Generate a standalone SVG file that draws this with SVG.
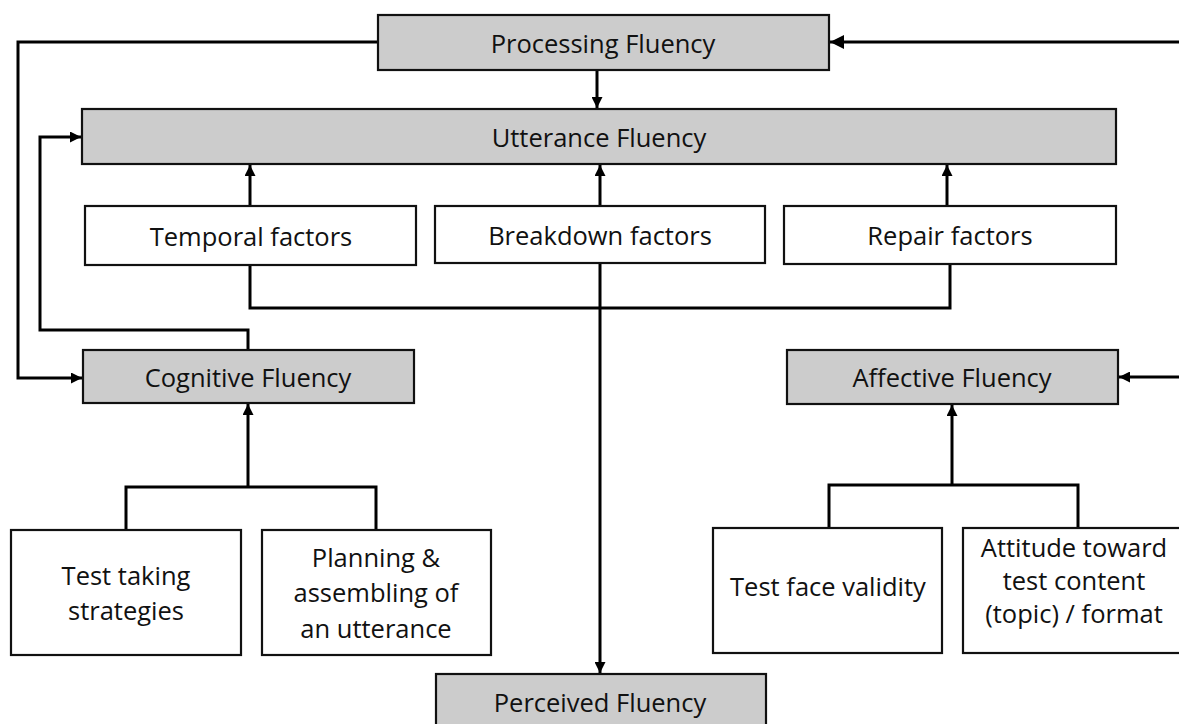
<svg xmlns="http://www.w3.org/2000/svg" width="1179" height="724" viewBox="0 0 1179 724">
<defs>
<style>
.g{fill:#cccccc;stroke:#111;stroke-width:2.2}
.w{fill:#ffffff;stroke:#111;stroke-width:2.2}
.t{font-family:"Open Sans","Noto Sans",sans-serif;font-size:25.5px;fill:#111;text-anchor:middle}
.c{fill:none;stroke:#000;stroke-width:3}
</style>
<marker id="ah" viewBox="0 0 10 10" refX="10" refY="5" markerWidth="11" markerHeight="11" markerUnits="userSpaceOnUse" orient="auto">
<path d="M0,0 L10,5 L0,10 z" fill="#000"/>
</marker>
<marker id="ahb" viewBox="0 0 10 10" refX="10" refY="5" markerWidth="14" markerHeight="14" markerUnits="userSpaceOnUse" orient="auto">
<path d="M0,0 L10,5 L0,10 z" fill="#000"/>
</marker>
</defs>
<rect width="1179" height="724" fill="#fff"/>
<g id="connectors">
<path class="c" d="M1179,42 L830,42" marker-end="url(#ahb)"/>
<path class="c" d="M378,42 L18,42 L18,378 L82,378" marker-end="url(#ah)"/>
<path class="c" d="M597,70 L597,108" marker-end="url(#ah)"/>
<path class="c" d="M248,350 L248,330 L40,330 L40,137 L81,137" marker-end="url(#ah)"/>
<path class="c" d="M250,206 L250,165" marker-end="url(#ah)"/>
<path class="c" d="M600,206 L600,165" marker-end="url(#ah)"/>
<path class="c" d="M947,206 L947,165" marker-end="url(#ah)"/>
<path class="c" d="M250,265 L250,308 L950,308 L950,264"/>
<path class="c" d="M600,263 L600,673" marker-end="url(#ah)"/>
<path class="c" d="M126,530 L126,487 L376,487 L376,530"/>
<path class="c" d="M248,487 L248,404" marker-end="url(#ah)"/>
<path class="c" d="M829,528 L829,485 L1078,485 L1078,528"/>
<path class="c" d="M952,485 L952,405" marker-end="url(#ah)"/>
<path class="c" d="M1179,377 L1119,377" marker-end="url(#ah)"/>
</g>
<g id="processing"><rect class="g" x="378" y="15" width="451" height="55"/><text class="t" x="603" y="53">Processing Fluency</text></g>
<g id="utterance"><rect class="g" x="82" y="109" width="1034" height="55"/><text class="t" x="599" y="147">Utterance Fluency</text></g>
<g id="temporal"><rect class="w" x="85" y="206" width="331" height="59"/><text class="t" x="251" y="246">Temporal factors</text></g>
<g id="breakdown"><rect class="w" x="435" y="206" width="330" height="57"/><text class="t" x="600" y="245">Breakdown factors</text></g>
<g id="repair"><rect class="w" x="784" y="206" width="332" height="58"/><text class="t" x="950" y="245">Repair factors</text></g>
<g id="cognitive"><rect class="g" x="83" y="350" width="331" height="53"/><text class="t" x="248" y="387">Cognitive Fluency</text></g>
<g id="affective"><rect class="g" x="787" y="350" width="331" height="54"/><text class="t" x="952" y="387">Affective Fluency</text></g>
<g id="testtaking"><rect class="w" x="11" y="530" width="230" height="125"/><text class="t" x="126" y="585">Test taking</text><text class="t" x="126" y="620">strategies</text></g>
<g id="planning"><rect class="w" x="262" y="530" width="229" height="125"/><text class="t" x="376" y="567">Planning &amp;</text><text class="t" x="376" y="602">assembling of</text><text class="t" x="376" y="638">an utterance</text></g>
<g id="facevalidity"><rect class="w" x="713" y="528" width="229" height="125"/><text class="t" x="828" y="596">Test face validity</text></g>
<g id="attitude"><rect class="w" x="963" y="528" width="230" height="125"/><text class="t" x="1074" y="557">Attitude toward</text><text class="t" x="1074" y="590">test content</text><text class="t" x="1074" y="623">(topic) / format</text></g>
<g id="perceived"><rect class="g" x="436" y="674" width="330" height="60"/><text class="t" x="600" y="712">Perceived Fluency</text></g>
</svg>
